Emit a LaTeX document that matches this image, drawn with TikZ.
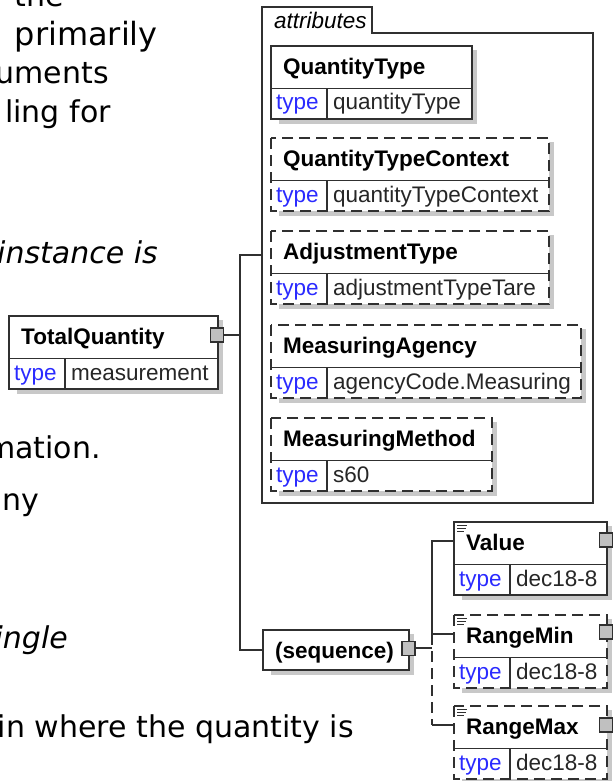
\documentclass[tikz,border=0pt]{standalone}
\usepackage{fontspec}
\usepackage{tikz}
\usetikzlibrary{
  calc,       % 坐标计算
  positioning % 节点相对定位
}
\newfontfamily\bodyfont{DejaVu Sans}
\newfontfamily\xsdfont{Liberation Sans}
\definecolor{linegray}{HTML}{303030}
\definecolor{shadegray}{HTML}{C8C8C8}
\definecolor{portgray}{HTML}{C0C0C0}
\definecolor{typeblue}{HTML}{2A2AFF}

% 元素框：名称, 左, 上, 右, 边框, 标题, 类型
\newcommand{\xsdelem}[7]{%
  \fill[shadegray] (#2+8,#3+4) rectangle (#4+5,#3+78);
  \fill[white] (#2,#3) rectangle (#4,#3+73);
  \draw[boxline] (#2,#3+42.5) -- (#4,#3+42.5) (#2+56,#3+42.5) -- (#2+56,#3+73);
  \draw[boxline,#5] (#2,#3) rectangle (#4,#3+73);
  \node[elemtitle] (#1) at (#2+12,#3+28.5) {#6};
  \node[typekey] (#1-k) at (#2+5,#3+64) {type};
  \node[typeval] (#1-v) at (#2+62,#3+64) {#7};
}

\begin{document}
\begin{tikzpicture}[x=1pt, y=-1pt,
  boxline/.style={draw=linegray, line width=1.3pt},
  brokenline/.style={dash pattern=on 11pt off 6pt},
  elemtitle/.style={anchor=base west, inner sep=0pt, font=\xsdfont\bfseries\fontsize{22.5}{27}\selectfont},
  typekey/.style={anchor=base west, inner sep=0pt, text=typeblue, font=\xsdfont\fontsize{22.5}{27}\selectfont},
  typeval/.style={anchor=base west, inner sep=0pt, text=black!85, font=\xsdfont\fontsize{22.5}{27}\selectfont},
  port/.style={draw=linegray, line width=1.3pt, fill=portgray, minimum width=13pt, minimum height=14pt, inner sep=0pt},
  prose/.style={anchor=base east, inner sep=0pt, font=\bodyfont\fontsize{30}{36}\selectfont},
  proseit/.style={prose, font=\bodyfont\itshape\fontsize{30}{36}\selectfont}]
  % === 画布与裁剪 ===
  \useasboundingbox (0,0) rectangle (613,781);
  \fill[white] (0,0) rectangle (613,781);
  \clip (0,0) rectangle (613,781);

  % === 左侧被截断的正文 ===
  \node[prose] (p1) at (64,7) {the};
  \node[prose, font=\bodyfont\fontsize{32}{38}\selectfont] (p2) at (158,45.5) {primarily};
  \node[prose] (p3) at (109,84) {uments};
  \node[prose] (p4) at (111,122.5) {ling for};
  \node[proseit] (p5) at (158,263) {instance is};
  \node[prose] (p6) at (101,458) {mation.};
  \node[prose] (p7) at (39,510) {ny};
  \node[proseit] (p8) at (68,648) {ingle};
  \node[prose] (p9) at (354,737) {ain where the quantity is};

  % === attributes 框 ===
  \draw[boxline] (262,7) -- (372,7) -- (372,33) -- (593,33) -- (593,503) -- (262,503) -- cycle;
  \node[anchor=base west, inner sep=0pt, font=\xsdfont\itshape\fontsize{22.5}{27}\selectfont] (attr) at (274,29) {attributes};
  \coordinate (attr-in) at (262,255);

  \xsdelem{qtype}{271}{46}{472}{solid}{QuantityType}{quantityType}
  \xsdelem{qctx}{271}{138}{549}{brokenline}{QuantityTypeContext}{quantityTypeContext}
  \xsdelem{adj}{271}{231}{549}{brokenline}{AdjustmentType}{adjustmentTypeTare}
  \xsdelem{agency}{271}{325}{581}{brokenline}{MeasuringAgency}{agencyCode.Measuring}
  \xsdelem{method}{271}{418}{492}{brokenline}{MeasuringMethod}{s60}

  % === 主元素与子元素 ===
  \xsdelem{total}{9}{316}{218}{solid}{TotalQuantity}{measurement}
  \xsdelem{value}{454}{522}{607}{solid}{Value}{dec18-8}
  \xsdelem{rmin}{454}{615}{607}{brokenline}{RangeMin}{dec18-8}
  \xsdelem{rmax}{454}{706}{607}{brokenline}{RangeMax}{dec18-8}

  % sequence 框
  \fill[shadegray] (271,634) rectangle (414,675);
  \filldraw[boxline, fill=white] (263,630) rectangle (409,670);
  \node[anchor=base west, inner sep=0pt, font=\xsdfont\bfseries\fontsize{22.5}{27}\selectfont] (seq) at (275,658) {(sequence)};
  \coordinate (seq-in) at (263,650);

  % 元素图标
  \foreach \t in {522,615,706}
    \draw[linegray, line width=1pt] (457,\t+3) -- ++(10,0) (457,\t+6) -- ++(9,0) (457,\t+9) -- ++(7,0);

  % === 连线 ===
  \coordinate (trunk) at (240,335);
  \coordinate (fork) at (432,648);
  \coordinate (value-in) at (454,541);
  \coordinate (rmin-in) at (454,634);
  \coordinate (rmax-in) at (454,725);
  \draw[boxline] (217,335) -- (trunk);
  \draw[boxline] (attr-in) -- (attr-in -| trunk) -- (seq-in -| trunk) -- (seq-in);
  \draw[boxline] (408,648) -- (fork);
  \draw[boxline] (value-in) -- (value-in -| fork) -- (rmin-in -| fork) -- (rmin-in);
  \draw[boxline, brokenline] (rmin-in -| fork) -- (rmax-in -| fork);
  \draw[boxline] (rmax-in -| fork) -- (rmax-in);

  % 展开端口
  \node[port] (total-port) at (217,335) {};
  \node[port] (seq-port) at (408.5,648.5) {};
  \node[port] (value-port) at (606,540) {};
  \node[port] (rmin-port) at (606,632) {};
  \node[port] (rmax-port) at (606,725) {};
\end{tikzpicture}
\end{document}
